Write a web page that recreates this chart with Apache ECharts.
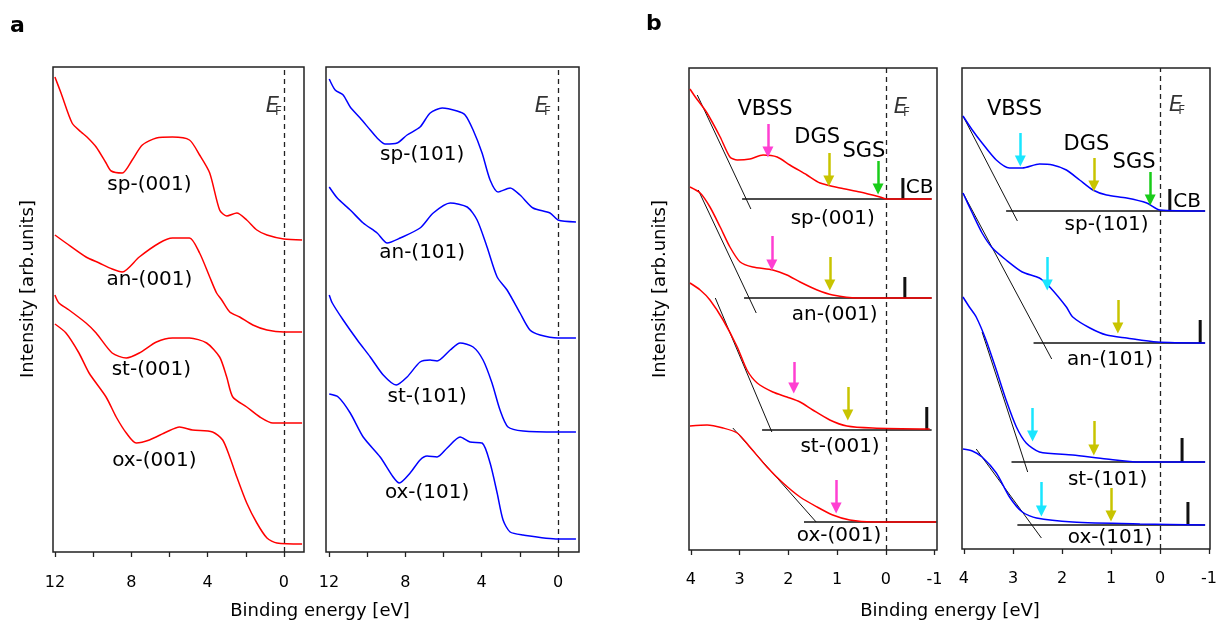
<!DOCTYPE html>
<html><head><meta charset="utf-8">
<script src="https://cdn.jsdelivr.net/npm/echarts@6/dist/echarts.min.js"></script>
<style>html,body{margin:0;padding:0;background:#fff}#c{width:1218px;height:622px}</style>
</head><body><div id="c"></div>
<script>
// ===== Data: [binding energy (eV), intensity (arb. units)] =====
// Panel a, (001) surfaces
const spA001 = [[12.0,475],[11.68,459],[11.1,429],[10.63,420],[10.32,415],[9.84,405],[9.32,389],[9.05,381],[8.47,379],[7.95,392],[7.42,407],[6.68,414],[5.84,415],[4.95,412],[4.42,397],[3.89,379],[3.37,342],[3.0,336],[2.47,339],[1.95,332],[1.42,322],[0.89,317],[0,313],[-0.95,312]];
const anA001 = [[12.0,317],[11.42,309],[10.37,295],[9.68,289],[9.0,283],[8.47,280],[7.58,295],[6.53,309],[5.84,314],[4.95,314],[4.42,299],[3.89,275],[3.53,259],[3.26,252],[2.84,240],[2.32,235],[1.63,227],[0.89,222],[0,220],[-0.95,220]];
const stA001 = [[12.0,257],[11.79,249],[11.26,242],[10.37,229],[9.84,219],[9.0,199],[8.26,194],[7.58,199],[6.68,210],[5.84,214],[4.95,214],[4.05,209],[3.37,195],[3.0,175],[2.68,155],[1.95,145],[1.26,135],[0.58,129],[0,129],[-0.95,129]];
const oxA001 = [[12.0,228],[11.42,219],[10.74,199],[10.21,179],[9.32,155],[8.79,135],[8.26,119],[7.74,109],[7.05,112],[6.16,120],[5.47,125],[4.79,122],[3.74,120],[3.21,112],[2.84,95],[2.47,75],[1.95,49],[1.42,29],[0.89,14],[0.37,9],[-0.95,8]];
// Panel a, (101) surfaces
const spA101 = [[11.99,473],[11.68,462],[11.26,457],[10.89,445],[10.37,434],[9.84,422],[9.48,414],[9.06,408],[8.43,409],[7.91,417],[7.23,425],[6.70,439],[6.07,444],[5.29,441],[4.87,437],[4.45,422],[3.98,399],[3.56,372],[3.14,360],[2.51,364],[1.99,357],[1.31,344],[0.42,339],[0,332],[-0.94,330]];
const anA101 = [[11.99,365],[11.57,354],[10.89,342],[10.21,329],[9.48,319],[8.95,309],[8.27,314],[7.23,324],[6.54,339],[5.65,349],[4.76,345],[4.24,332],[3.72,305],[3.19,275],[2.67,262],[1.99,239],[1.47,222],[0.94,217],[0,214],[-0.94,214]];
const stA101 = [[11.99,257],[11.83,249],[11.26,232],[10.52,212],[9.84,195],[9.16,177],[8.48,167],[7.91,175],[7.23,190],[6.70,192],[6.34,191],[5.65,202],[5.13,209],[4.45,205],[3.93,192],[3.46,169],[3.04,142],[2.62,125],[1.83,121],[0,120],[-0.94,120]];
const oxA101 = [[11.99,158],[11.52,155],[10.89,139],[10.21,115],[9.32,95],[8.64,75],[8.32,69],[7.75,79],[7.23,92],[6.86,96],[6.34,95],[5.81,104],[5.13,115],[4.61,110],[3.98,109],[3.56,89],[3.19,59],[2.88,32],[2.51,20],[1.83,17],[0,13],[-0.94,13]];
// Panel b, (001) surfaces (near-gap region)
const spB001 = [[4.02,461],[3.91,453],[3.67,437],[3.40,413],[3.20,393],[3.05,390],[2.79,391],[2.52,395],[2.23,393],[1.97,385],[1.62,375],[1.35,367],[0.94,362],[0.53,358],[0.12,353],[-0.02,351],[-0.94,351]];
const anB001 = [[4.02,363],[3.81,357],[3.61,343],[3.40,323],[3.20,303],[2.99,288],[2.73,283],[2.32,280],[2.03,275],[1.76,268],[1.41,260],[1.09,255],[0.59,252],[-0.02,252],[-0.94,252]];
const stB001 = [[4.02,267],[3.81,260],[3.61,250],[3.34,230],[3.05,203],[2.85,180],[2.64,167],[2.32,158],[2.03,153],[1.76,148],[1.50,140],[1.15,130],[0.80,124],[0.27,122],[-0.90,121]];
const oxB001 = [[4.02,124],[3.67,125],[3.34,122],[3.05,117],[2.79,103],[2.44,83],[2.11,67],[1.76,53],[1.41,43],[1.09,35],[0.74,30],[0.27,28],[-1.03,28]];
const tanB001 = [[[3.87,455],[2.77,341]],[[3.85,360],[2.66,237]],[[3.50,252],[2.34,118]],[[3.14,122],[1.43,28]]];
const baseB001 = [[[2.95,351],[-0.94,351]],[[2.91,252],[-0.94,252]],[[2.54,120],[-0.94,120]],[[1.68,28],[-1.04,28]]];
const cbB001 = [[-0.35,351,372],[-0.39,252,273],[-0.84,120,143]];
const vbssB001 = [[2.42,426,398],[2.34,314,285],[1.89,188,162],[1.02,70,42]];
const dgsB001 = [[1.17,397,369],[1.15,293,265],[0.78,163,135]];
const sgsB001 = [[0.16,389,361]];
// Panel b, (101) surfaces
const spB101 = [[4.02,433],[3.83,419],[3.63,406],[3.34,389],[3.07,381],[2.81,381],[2.46,385],[2.19,384],[1.91,379],[1.64,369],[1.37,359],[1.09,354],[0.68,351],[0.27,346],[0,339],[-0.92,338]];
const anB101 = [[4.02,356],[3.83,336],[3.63,316],[3.42,301],[3.14,289],[2.81,277],[2.46,271],[2.25,262],[1.91,242],[1.78,232],[1.43,221],[1.09,214],[0.68,211],[0.06,207],[-0.92,206]];
const stB101 = [[4.02,252],[3.89,242],[3.75,232],[3.55,209],[3.34,179],[3.14,149],[2.93,122],[2.73,106],[2.46,97],[1.78,94],[1.09,90],[0.41,87],[-0.92,87]];
const oxB101 = [[4.02,100],[3.83,98],[3.63,92],[3.34,76],[3.07,52],[2.81,37],[2.52,31],[1.78,27],[0.41,25],[-0.92,24]];
const tanB101 = [[[4.02,433],[2.91,328]],[[4.02,356],[2.21,190]],[[3.63,217],[2.70,77]],[[3.75,100],[2.42,11]]];
const baseB101 = [[[3.14,338],[-0.92,338]],[[2.58,206],[-0.92,206]],[[3.03,87],[-0.92,87]],[[2.91,24],[-0.92,24]]];
const cbB101 = [[-0.20,338,360],[-0.82,206,229],[-0.45,87,111],[-0.57,24,47]];
const vbssB101 = [[2.85,416,388],[2.30,292,264],[2.60,141,113],[2.42,67,38]];
const dgsB101 = [[1.35,391,363],[0.86,249,221],[1.35,128,99],[1.00,61,33]];
const sgsB101 = [[0.20,377,349]];
// Tick labels
const ticksA = [12,10,8,6,4,2,0];
const tickLabelsA = [12,8,4,0];
const ticksB = [4,3,2,1,0,-1];
// Text labels: [E, I, text]
const labA001 = [[7.05,367,'sp-(001)'],[7.05,272,'an-(001)'],[6.95,182,'st-(001)'],[6.79,91,'ox-(001)']];
const labA101 = [[7.12,397,'sp-(101)'],[7.12,299,'an-(101)'],[6.86,155,'st-(101)'],[6.86,59,'ox-(101)']];
const labB001 = [[1.09,331,'sp-(001)'],[1.05,235,'an-(001)'],[0.94,103,'st-(001)'],[0.96,14,'ox-(001)']];
const labB101 = [[1.09,324,'sp-(101)'],[1.02,189,'an-(101)'],[1.07,69,'st-(101)'],[1.02,11,'ox-(101)']];
const featB001 = [[2.48,440,'VBSS'],[1.41,412,'DGS'],[0.45,398,'SGS']];
const featB101 = [[2.97,439,'VBSS'],[1.50,404,'DGS'],[0.53,386,'SGS']];
const efPos = [[0.53,445],[0.79,445],[-0.33,442],[-0.35,443]];
const cbTextPos = [[-0.41,362],[-0.27,347]];

// ===== Style =====
const RED = '#ff0000', BLUE = '#0000ff';
const MAG = '#ff3fd2', YEL = '#c8c400', GRN = '#19cc19', CYA = '#19e6ff';
const FONT = '"DejaVu Sans", "Liberation Sans", Arial, sans-serif';
const TXT = '#000';

const grids = [
  {left:53, top:67, width:251, height:485},
  {left:326, top:67, width:253, height:485},
  {left:689, top:68, width:248, height:482},
  {left:962, top:68, width:248, height:481}
].map(g => Object.assign(g, {show:true, borderColor:'#222', borderWidth:1.5, backgroundColor:'transparent',
  containLabel:false, outerBoundsMode:'none'}));

function xAx(gi, min, max, ticks, labels, margin){
  return {type:'value', gridIndex:gi, inverse:true, min, max,
    splitLine:{show:false}, axisLine:{show:false},
    axisTick:{show:true, inside:false, length:5, lineStyle:{color:'#222', width:1.3}, customValues:ticks},
    axisLabel:{show:true, margin, fontFamily:FONT, fontSize:16, color:TXT, customValues:labels,
      hideOverlap:false, formatter: v => (v < 0 ? '-' + Math.abs(v) : String(v))}};
}
const xAxes = [xAx(0,-1.05,12.1,ticksA,tickLabelsA,23), xAx(1,-1.1,12.16,ticksA,tickLabelsA,23),
  xAx(2,-1.05,4.04,ticksB,ticksB,22), xAx(3,-1.02,4.04,ticksB,ticksB,22)];
const yMax = [485,485,482,481];
const yAxes = yMax.map((m,gi) => ({type:'value', gridIndex:gi, min:0, max:m, show:false}));

const series = [];
function curve(data, gi, color, withEF){
  const s = {type:'line', xAxisIndex:gi, yAxisIndex:gi, data, symbol:'none', showSymbol:false,
    smooth:0.25, lineStyle:{color, width:1.5}, z:5, silent:true, animation:false};
  if (withEF) s.markLine = {silent:true, symbol:'none', animation:false, label:{show:false},
    lineStyle:{color:'#222', width:1.3, type:[5,4]}, data:[{xAxis:0}], z:2};
  series.push(s);
}
function seg(pts, gi, width, z){
  series.push({type:'line', xAxisIndex:gi, yAxisIndex:gi, data:pts, symbol:'none', showSymbol:false,
    lineStyle:{color:'#111', width}, z, silent:true, animation:false});
}
function arrows(arr, gi, color){
  series.push({type:'lines', coordinateSystem:'cartesian2d', xAxisIndex:gi, yAxisIndex:gi,
    symbol:['none','triangle'], symbolSize:11, silent:true, animation:false, z:6,
    lineStyle:{color, width:2.5, opacity:1},
    data: arr.map(a => ({coords:[[a[0],a[1]],[a[0],a[2]]]}))});
}
function texts(arr, gi, size, pos){
  series.push({type:'scatter', xAxisIndex:gi, yAxisIndex:gi, symbolSize:0, silent:true, animation:false, z:7,
    itemStyle:{color:'#000'},
    label:{show:true, position:pos||'inside', distance:0, formatter:p => p.data[2], fontFamily:FONT, fontSize:size,
      color:TXT, textBorderWidth:0, opacity:1},
    data:arr});
}
function ef(pt, gi){
  series.push({type:'scatter', xAxisIndex:gi, yAxisIndex:gi, symbolSize:0, silent:true, animation:false, z:7,
    itemStyle:{color:'#000'},
    label:{show:true, position:'inside', formatter:'{e|E}{f|F}', textBorderWidth:0,
      rich:{e:{fontFamily:FONT, fontStyle:'italic', fontSize:21, color:TXT},
            f:{fontFamily:FONT, fontSize:12, color:TXT, padding:[9,0,0,-4]}}},
    data:[pt]});
}

// Panel a
curve(spA001,0,RED,true); curve(anA001,0,RED); curve(stA001,0,RED); curve(oxA001,0,RED);
curve(spA101,1,BLUE,true); curve(anA101,1,BLUE); curve(stA101,1,BLUE); curve(oxA101,1,BLUE);
texts(labA001,0,20); texts(labA101,1,20); ef(efPos[0],0); ef(efPos[1],1);
// Panel b
baseB001.forEach(p => seg(p,2,1.5,3)); tanB001.forEach(p => seg(p,2,1,4));
cbB001.forEach(c => seg([[c[0],c[1]],[c[0],c[2]]],2,3,4));
curve(spB001,2,RED,true); curve(anB001,2,RED); curve(stB001,2,RED); curve(oxB001,2,RED);
arrows(vbssB001,2,MAG); arrows(dgsB001,2,YEL); arrows(sgsB001,2,GRN);
texts(labB001,2,20); texts(featB001,2,21); ef(efPos[2],2);
texts([[cbTextPos[0][0],cbTextPos[0][1],'CB']],2,20,'right');
baseB101.forEach(p => seg(p,3,1.5,3)); tanB101.forEach(p => seg(p,3,1,4));
cbB101.forEach(c => seg([[c[0],c[1]],[c[0],c[2]]],3,3,4));
curve(spB101,3,BLUE,true); curve(anB101,3,BLUE); curve(stB101,3,BLUE); curve(oxB101,3,BLUE);
arrows(vbssB101,3,CYA); arrows(dgsB101,3,YEL); arrows(sgsB101,3,GRN);
texts(labB101,3,20); texts(featB101,3,21); ef(efPos[3],3);
texts([[cbTextPos[1][0],cbTextPos[1][1],'CB']],3,20,'right');

const tstyle = {fontFamily:FONT, fontSize:18, fill:TXT};
const graphic = [
  {type:'text', left:10, top:15, style:{text:'a', fontFamily:FONT, fontSize:22, fontWeight:'bold', fill:'#000'}},
  {type:'text', left:646, top:13, style:{text:'b', fontFamily:FONT, fontSize:22, fontWeight:'bold', fill:'#000'}},
  {type:'text', x:320, y:611, style:Object.assign({text:'Binding energy [eV]', align:'center', verticalAlign:'middle'}, tstyle)},
  {type:'text', x:950, y:611, style:Object.assign({text:'Binding energy [eV]', align:'center', verticalAlign:'middle'}, tstyle)},
  {type:'text', x:28, y:289, rotation:Math.PI/2, style:Object.assign({text:'Intensity [arb.units]', align:'center', verticalAlign:'middle'}, tstyle)},
  {type:'text', x:660, y:289, rotation:Math.PI/2, style:Object.assign({text:'Intensity [arb.units]', align:'center', verticalAlign:'middle'}, tstyle)}
];

const chart = echarts.init(document.getElementById('c'), null, {renderer:'canvas'});
chart.setOption({animation:false, backgroundColor:'#fff', grid:grids, xAxis:xAxes, yAxis:yAxes, series, graphic});
</script></body></html>
